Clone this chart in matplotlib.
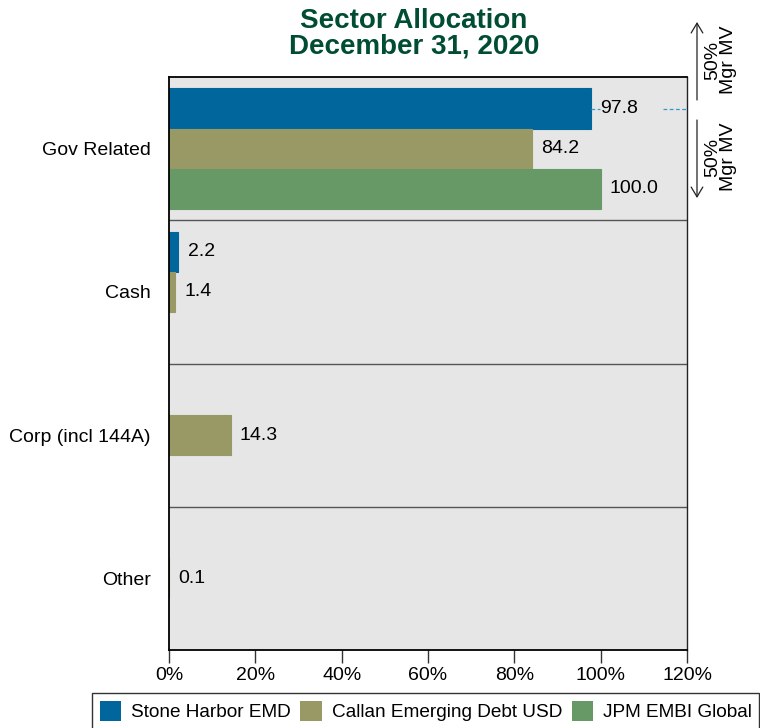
import matplotlib
matplotlib.use("Agg")
import matplotlib.pyplot as plt
from matplotlib.patches import Patch, FancyArrowPatch
from matplotlib.ticker import FuncFormatter

plt.rcParams['font.family'] = ['Liberation Sans', 'DejaVu Sans']

categories = ["Gov Related", "Cash", "Corp (incl 144A)", "Other"]
series_names = ["Stone Harbor EMD", "Callan Emerging Debt USD", "JPM EMBI Global"]
stone_harbor = [97.8, 2.2, None, None]
callan = [84.2, 1.4, 14.3, 0.1]
jpm = [100.0, None, None, None]
colors = ["#00669c", "#999966", "#669966"]
xticks = [0, 20, 40, 60, 80, 100, 120]

FS = 14

fig = plt.figure(figsize=(7.6, 7.28), dpi=100)
ax = fig.add_axes([169/760, 1-650/728, (687-169)/760, (650-77)/728])
bg = "#e6e6e6"
ax.set_facecolor(bg)

h = 0.28
offsets = [-h, 0, h]
all_series = [stone_harbor, callan, jpm]
for s, (vals, col, off) in enumerate(zip(all_series, colors, offsets)):
    for i, v in enumerate(vals):
        if v is None:
            continue
        y = i + off
        ax.barh(y, v, height=h, color=col, edgecolor=col, linewidth=0.8, zorder=2)
        ax.text(v + 2.1, y, f"{v:.1f}", va="center", ha="left", fontsize=FS, zorder=4)

# dashed reference line for Stone Harbor Gov Related
v0 = stone_harbor[0]
y0 = 0 - h
ax.plot([v0, v0 + 2], [y0, y0], ls=(0, (3, 2)), color="#3399cc", lw=0.9, zorder=3)
ax.plot([114.5, 120], [y0, y0], ls=(0, (3, 2)), color="#3399cc", lw=0.9, zorder=3)

for b in [0.5, 1.5, 2.5]:
    ax.axhline(b, color="#555555", lw=1.0, zorder=1)

ax.set_xlim(0, 120)
ax.set_ylim(3.5, -0.5)
ax.set_yticks(range(len(categories)))
ax.set_yticklabels(categories, fontsize=FS)
ax.tick_params(axis="y", length=0, pad=13)
ax.set_xticks(xticks)
ax.xaxis.set_major_formatter(FuncFormatter(lambda x, p: f"{int(x)}%"))
ax.tick_params(axis="x", direction="out", length=9, width=1, color="#333333", labelsize=FS, pad=3)

for sp in ["top", "bottom", "left"]:
    ax.spines[sp].set_color("black")
    ax.spines[sp].set_linewidth(1.3)
ax.spines["right"].set_color("#222222")
ax.spines["right"].set_linewidth(1.0)

fig.text(414/760, 1-21/728, "Sector Allocation", ha="center", va="center",
         fontsize=20, fontweight="bold", color="#004d33")
fig.text(414/760, 1-47/728, "December 31, 2020", ha="center", va="center",
         fontsize=20, fontweight="bold", color="#004d33")

# right side annotations
ax_x = 697/760
fig.add_artist(FancyArrowPatch((ax_x, 1-100/728), (ax_x, 1-22/728),
               transform=fig.transFigure, arrowstyle="->,head_length=0.5,head_width=0.3",
               mutation_scale=14, color="#222222", lw=0.9, shrinkA=0, shrinkB=0))
fig.add_artist(FancyArrowPatch((ax_x, 1-120/728), (ax_x, 1-198/728),
               transform=fig.transFigure, arrowstyle="->,head_length=0.5,head_width=0.3",
               mutation_scale=14, color="#222222", lw=0.9, shrinkA=0, shrinkB=0))
fig.text(721/760, 1-60/728, "50%\nMgr MV", rotation=90, ha="center", va="center", fontsize=FS,
         linespacing=0.9)
fig.text(721/760, 1-157/728, "50%\nMgr MV", rotation=90, ha="center", va="center", fontsize=FS,
         linespacing=0.9)

handles = [Patch(facecolor=c, edgecolor="none") for c in colors]
leg = fig.legend(handles, series_names, loc="center left", bbox_to_anchor=(92/760, 1-711/728),
                 ncol=3, fontsize=13.7, frameon=True, fancybox=False, edgecolor="black",
                 handlelength=1.15, handleheight=1.3, handletextpad=0.5, columnspacing=0.5,
                 borderpad=0.4, borderaxespad=0)
leg.get_frame().set_linewidth(1.0)

fig.savefig("out.png", dpi=100)
